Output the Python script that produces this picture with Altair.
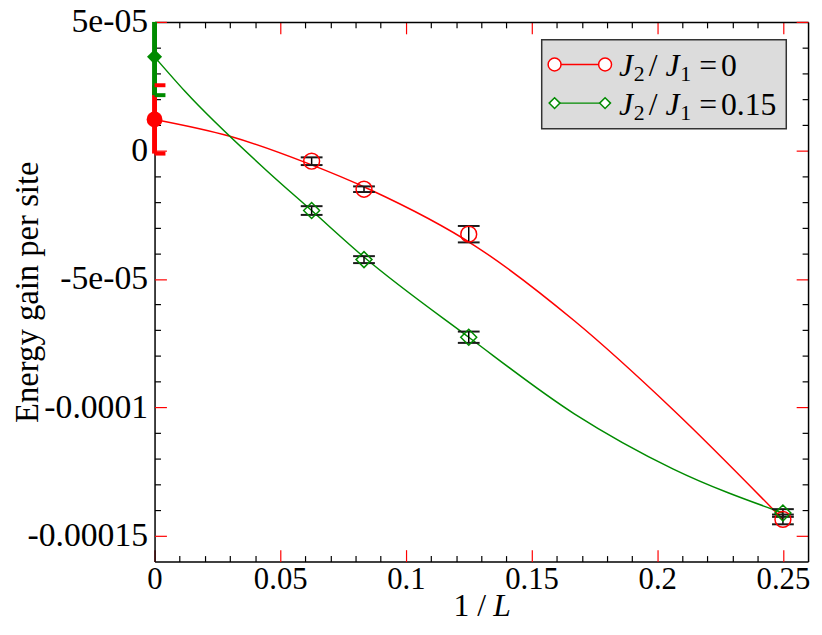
import altair as alt
import pandas as pd

# ---------------- data ----------------
series_names = ["J2/J1 = 0", "J2/J1 = 0.15"]
series_colors = ["#ff0000", "#008b00"]

inv_L = [1 / 16, 1 / 12, 1 / 8, 1 / 4]
red_y = [-4.2e-6, -1.51e-5, -3.26e-5, -1.436e-4]
red_err = [1.5e-6, 1.1e-6, 3.2e-6, 1.9e-6]
green_y = [-2.34e-5, -4.25e-5, -7.27e-5, -1.411e-4]
green_err = [1.7e-6, 1.35e-6, 2.2e-6, 1.5e-6]

# extrapolated values (1/L -> 0)
extrap_x = [0.0, 0.0]
extrap_y = [1.206e-5, 3.64e-5]
extrap_err = [1.33e-5, 1.49e-5]

# fitted curves
red_fit_x = [0.0, 0.03, 0.0607, 0.0856, 0.1276, 0.167, 0.2064, 0.25]
red_fit_y = [1.206e-5, 5.5e-6, -4.97e-6, -1.52e-5, -3.72e-5, -6.63e-5, -1.01e-4, -1.436e-4]
green_fit_x = [0.0, 0.0121, 0.0442, 0.0625, 0.0833, 0.125, 0.167, 0.2064, 0.25]
green_fit_y = [3.64e-5, 2.3e-5, -7.5e-6, -2.34e-5, -4.15e-5, -7.27e-5, -1.025e-4, -1.24e-4, -1.411e-4]

# axes
x_domain = [0.0, 0.26]
y_domain = [-0.00016, 0.00005]
x_major = [0.0, 0.05, 0.1, 0.15, 0.2, 0.25]
x_major_labels = ["0", "0.05", "0.1", "0.15", "0.2", "0.25"]
x_minor = [0.01, 0.02, 0.03, 0.04, 0.06, 0.07, 0.08, 0.09, 0.11, 0.12, 0.13, 0.14,
           0.16, 0.17, 0.18, 0.19, 0.21, 0.22, 0.23, 0.24]
y_major = [5e-05, 0.0, -5e-05, -1e-04, -1.5e-04]
y_major_labels = ["5e-05", "0", "-5e-05", "-0.0001", "-0.00015"]
y_minor = [4e-05, 3e-05, 2e-05, 1e-05, -1e-05, -2e-05, -3e-05, -4e-05,
           -6e-05, -7e-05, -8e-05, -9e-05, -1.1e-04, -1.2e-04, -1.3e-04, -1.4e-04]

x_title_plain = "1 / "
x_title_italic = "L"
y_title = "Energy gain per site"

# ---------------- tables ----------------
pts = pd.DataFrame({
    "x": inv_L * 2,
    "y": red_y + green_y,
    "err": red_err + green_err,
    "series": [series_names[0]] * 4 + [series_names[1]] * 4,
})
fit = pd.DataFrame({
    "x": red_fit_x + green_fit_x,
    "y": red_fit_y + green_fit_y,
    "series": [series_names[0]] * len(red_fit_x) + [series_names[1]] * len(green_fit_x),
})
ext = pd.DataFrame({"x": extrap_x, "y": extrap_y, "err": extrap_err, "series": series_names})
one = pd.DataFrame({"k": [0]})

FONT = "Liberation Serif"
W, H = 660, 545

xs = alt.Scale(domain=x_domain, nice=False, zero=False)
ys = alt.Scale(domain=y_domain, nice=False, zero=False, clamp=True)
cscale = alt.Scale(domain=series_names, range=series_colors)


def label_expr(vals, labs):
    parts = [f"abs(datum.value - ({v!r})) < 1e-12 ? '{l}'" for v, l in zip(vals, labs)]
    return " : ".join(parts) + " : ''"


def ax(**kw):
    base = dict(title=None, grid=False, domain=False, ticks=False, labels=False)
    base.update(kw)
    return alt.Axis(**base)


def X(field="x", axis=None):
    return alt.X(f"{field}:Q", scale=xs, axis=axis)


def Y(field="y", axis=None):
    return alt.Y(f"{field}:Q", scale=ys, axis=axis)


# ---------------- axis layers ----------------
def axis_layer(xaxis, yaxis):
    return alt.Chart(pts).mark_point(opacity=0).encode(x=X(axis=xaxis), y=Y(axis=yaxis))


lab_layer = axis_layer(
    ax(orient="bottom", domain=True, domainColor="black", domainWidth=1.5,
       labels=True, values=x_major, labelExpr=label_expr(x_major, x_major_labels),
       labelFont=FONT, labelFontSize=31, labelColor="black", labelPadding=3,
       tickSize=0, labelFlush=False, labelOverlap=False),
    ax(orient="left", domain=True, domainColor="black", domainWidth=1.5,
       labels=True, values=y_major, labelExpr=label_expr(y_major, y_major_labels),
       labelFont=FONT, labelFontSize=34, labelColor="black", labelPadding=7,
       tickSize=0, labelFlush=False, labelOverlap=False,
       title=y_title, titleFont=FONT, titleFontSize=33, titleFontWeight="normal",
       titleColor="black", titleX=-118, titleBaseline="alphabetic"),
)
inner_major_a = axis_layer(
    ax(orient="top", offset=-H, ticks=True, values=x_major, tickSize=12, tickColor="#ff0000", tickWidth=1.2),
    ax(orient="right", offset=-W, ticks=True, values=y_major, tickSize=12, tickColor="#ff0000", tickWidth=1.2),
)
inner_minor_a = axis_layer(
    ax(orient="top", offset=-H, ticks=True, values=x_minor, tickSize=6, tickColor="black", tickWidth=1.2),
    ax(orient="right", offset=-W, ticks=True, values=y_minor, tickSize=6, tickColor="black", tickWidth=1.2),
)
inner_major_b = axis_layer(
    ax(orient="bottom", offset=-H, domain=True, domainColor="black", domainWidth=1.5,
       ticks=True, values=x_major, tickSize=12, tickColor="#ff0000", tickWidth=1.2),
    ax(orient="left", offset=-W, domain=True, domainColor="black", domainWidth=1.5,
       ticks=True, values=y_major, tickSize=12, tickColor="#ff0000", tickWidth=1.2),
)
inner_minor_b = axis_layer(
    ax(orient="bottom", offset=-H, ticks=True, values=x_minor, tickSize=6, tickColor="black", tickWidth=1.2),
    ax(orient="left", offset=-W, ticks=True, values=y_minor, tickSize=6, tickColor="black", tickWidth=1.2),
)

# ---------------- data layers ----------------
fit_lines = alt.Chart(fit).mark_line(strokeWidth=1.5, interpolate="monotone").encode(
    x=X(), y=Y(), color=alt.Color("series:N", scale=cscale, legend=None))

eb = alt.Chart(pts).transform_calculate(lo="datum.y - datum.err", hi="datum.y + datum.err")
err_rules = eb.mark_rule(color="black", strokeWidth=1.5).encode(x=X(), y=Y("lo"), y2="hi:Q")
cap_hi = eb.mark_tick(orient="horizontal", size=22, thickness=2, color="#1a1a1a", opacity=1).encode(x=X(), y=Y("hi"))
cap_lo = eb.mark_tick(orient="horizontal", size=22, thickness=2, color="#1a1a1a", opacity=1).encode(x=X(), y=Y("lo"))

red_pts = alt.Chart(pts).transform_filter(alt.datum.series == series_names[0]).mark_point(
    shape="circle", size=256, filled=False, strokeWidth=1.5, color=series_colors[0], opacity=1
).encode(x=X(), y=Y())
green_pts = alt.Chart(pts).transform_filter(alt.datum.series == series_names[1]).mark_point(
    shape="diamond", size=260, filled=False, strokeWidth=1.5, color=series_colors[1], opacity=1
).encode(x=X(), y=Y())

ee = alt.Chart(ext).transform_calculate(lo="datum.y - datum.err", hi="datum.y + datum.err")
ext_rules = ee.mark_rule(strokeWidth=5).encode(
    x=X(), y=Y("lo"), y2="hi:Q", color=alt.Color("series:N", scale=cscale, legend=None))
ext_cap_hi = ee.transform_filter(f"datum.hi <= {y_domain[1]}").mark_tick(
    orient="horizontal", size=11, thickness=4, xOffset=5.5, opacity=1
).encode(x=X(), y=Y("hi"), color=alt.Color("series:N", scale=cscale, legend=None))
ext_cap_lo = ee.mark_tick(orient="horizontal", size=11, thickness=4, xOffset=5.5, opacity=1).encode(
    x=X(), y=Y("lo"), color=alt.Color("series:N", scale=cscale, legend=None))
ext_red = alt.Chart(ext).transform_filter(alt.datum.series == series_names[0]).mark_point(
    shape="circle", size=256, filled=True, color=series_colors[0], opacity=1).encode(x=X(), y=Y())
ext_green = alt.Chart(ext).transform_filter(alt.datum.series == series_names[1]).mark_point(
    shape="diamond", size=230, filled=True, color=series_colors[1], opacity=1).encode(x=X(), y=Y())

# ---------------- x-axis title (with italic L) ----------------
xt1 = alt.Chart(one).mark_text(text=x_title_plain, font=FONT, fontSize=32, align="left",
                               baseline="alphabetic", color="black").encode(
    x=alt.value(302), y=alt.value(600))
xt2 = alt.Chart(one).mark_text(text=x_title_italic, font=FONT, fontSize=32, fontStyle="italic",
                               align="left", baseline="alphabetic", color="black").encode(
    x=alt.value(342), y=alt.value(600))

# ---------------- legend ----------------
leg_box = alt.Chart(one).mark_rect(fill="#dcdcdc", stroke="#333333", strokeWidth=1.5).encode(
    x=alt.value(391), x2=alt.value(638), y=alt.value(18), y2=alt.value(108))

legend_values = ["0", "0.15"]
legend_shapes = ["circle", "diamond"]
legend_sizes = [170, 120]
leg_layers = []
for i, (val, shp, sz, col) in enumerate(zip(legend_values, legend_shapes, legend_sizes, series_colors)):
    yc = 43 + 39 * i
    yb = 55 + 39 * i
    leg_layers.append(alt.Chart(one).mark_rule(color=col, strokeWidth=1.5).encode(
        x=alt.value(404), x2=alt.value(455), y=alt.value(yc)))
    for xc in (404, 455):
        leg_layers.append(alt.Chart(one).mark_point(
            shape=shp, size=sz, filled=False, fill="white", fillOpacity=1, stroke=col,
            strokeWidth=1.5, opacity=1).encode(x=alt.value(xc), y=alt.value(yc)))
    pieces = [
        ("J", 469, yb, 32, "italic"),
        ("2", 484, yb + 5, 22, "normal"),
        ("/", 499, yb, 32, "normal"),
        ("J", 516, yb, 32, "italic"),
        ("1", 531, yb + 5, 22, "normal"),
        ("=", 550, yb, 32, "normal"),
        (val, 572, yb, 32, "normal"),
    ]
    for txt, px, py, fs, style in pieces:
        leg_layers.append(alt.Chart(one).mark_text(
            text=txt, font=FONT, fontSize=fs, fontStyle=style, align="left",
            baseline="alphabetic", color="black").encode(x=alt.value(px), y=alt.value(py)))

chart = alt.layer(
    lab_layer, inner_major_a, inner_minor_a, inner_major_b, inner_minor_b,
    fit_lines, err_rules, cap_hi, cap_lo, red_pts, green_pts,
    ext_rules, ext_cap_hi, ext_cap_lo, ext_red, ext_green,
    xt1, xt2, leg_box, *leg_layers,
).resolve_axis(x="independent", y="independent").properties(
    width=W, height=H, autosize="none",
    padding={"left": 148, "top": 11, "right": 6, "bottom": 61},
).configure_view(stroke=None)

chart.save("out.html", embed_options={"renderer": "svg", "actions": False})
